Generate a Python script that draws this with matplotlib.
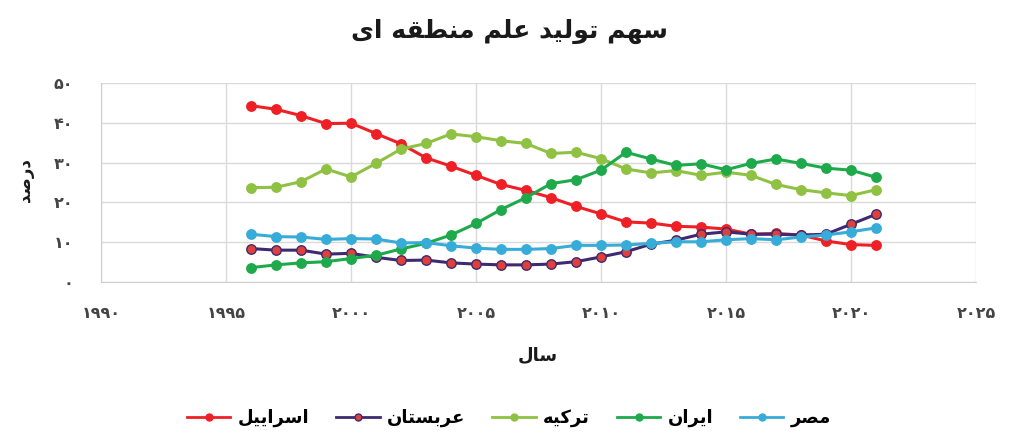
import matplotlib
matplotlib.use("Agg")
import matplotlib.pyplot as plt
from matplotlib.lines import Line2D
from matplotlib.ticker import FuncFormatter

# ---- data -------------------------------------------------------------
years = list(range(1996, 2022))

israel = [44.3, 43.4, 41.8, 39.8, 39.9, 37.3, 34.7, 31.2, 29.1, 26.8, 24.5, 23.0, 21.2,
          19.0, 17.1, 15.1, 14.8, 14.0, 13.8, 13.3, 12.0, 12.2, 11.8, 10.3, 9.4, 9.2]
saudi = [8.4, 8.0, 8.0, 7.0, 7.2, 6.2, 5.4, 5.5, 4.8, 4.5, 4.3, 4.3, 4.5,
         5.1, 6.3, 7.6, 9.5, 10.5, 12.0, 12.6, 12.0, 12.0, 11.8, 12.0, 14.5, 17.0]
turkey = [23.7, 23.8, 25.2, 28.4, 26.4, 29.8, 33.4, 34.8, 37.2, 36.5, 35.5, 34.8, 32.3,
          32.6, 31.0, 28.4, 27.4, 28.0, 26.8, 27.6, 26.8, 24.5, 23.2, 22.4, 21.7, 23.2]
iran = [3.6, 4.3, 4.8, 5.1, 5.9, 6.7, 8.3, 9.7, 11.8, 14.7, 18.2, 21.2, 24.7,
        25.7, 28.1, 32.6, 30.9, 29.3, 29.7, 28.2, 29.8, 30.9, 29.8, 28.6, 28.1, 26.3]
egypt = [12.0, 11.4, 11.3, 10.7, 10.9, 10.8, 9.8, 9.9, 9.1, 8.5, 8.2, 8.2, 8.4,
         9.2, 9.2, 9.3, 9.7, 10.1, 10.1, 10.6, 10.9, 10.6, 11.3, 11.8, 12.6, 13.6]

series_names = ["اسراییل", "عربستان", "ترکیه", "ایران", "مصر"]
series_values = [israel, saudi, turkey, iran, egypt]
line_colors = ["#ee2026", "#3e2a70", "#8fc143", "#1eaa4b", "#37acd8"]
marker_faces = ["#ee2026", "#e0403a", "#8fc143", "#1eaa4b", "#37acd8"]

title_text = "سهم تولید علم منطقه ای"
xlabel_text = "سال"
ylabel_text = "درصد"

x_ticks = list(range(1990, 2026, 5))
y_ticks = list(range(0, 51, 10))

# ---- minimal Arabic-script shaping (contextual forms + RTL order) ------
# letter: (isolated, final, initial, medial); None -> does not join forward
FORMS = {
    "ا": ("\uFE8D", "\uFE8E", None, None),
    "ب": ("\uFE8F", "\uFE90", "\uFE91", "\uFE92"),
    "ت": ("\uFE95", "\uFE96", "\uFE97", "\uFE98"),
    "د": ("\uFEA9", "\uFEAA", None, None),
    "ر": ("\uFEAD", "\uFEAE", None, None),
    "س": ("\uFEB1", "\uFEB2", "\uFEB3", "\uFEB4"),
    "ص": ("\uFEB9", "\uFEBA", "\uFEBB", "\uFEBC"),
    "ط": ("\uFEC1", "\uFEC2", "\uFEC3", "\uFEC4"),
    "ع": ("\uFEC9", "\uFECA", "\uFECB", "\uFECC"),
    "ق": ("\uFED5", "\uFED6", "\uFED7", "\uFED8"),
    "ل": ("\uFEDD", "\uFEDE", "\uFEDF", "\uFEE0"),
    "م": ("\uFEE1", "\uFEE2", "\uFEE3", "\uFEE4"),
    "ن": ("\uFEE5", "\uFEE6", "\uFEE7", "\uFEE8"),
    "ه": ("\uFEE9", "\uFEEA", "\uFEEB", "\uFEEC"),
    "و": ("\uFEED", "\uFEEE", None, None),
    "ی": ("\uFBFC", "\uFBFD", "\uFBFE", "\uFBFF"),
    "ک": ("\uFB8E", "\uFB8F", "\uFB90", "\uFB91"),
}


def shape(text):
    out = []
    n = len(text)
    for i, ch in enumerate(text):
        if ch not in FORMS:
            out.append(ch)
            continue
        iso, fin, ini, med = FORMS[ch]
        prev = text[i - 1] if i > 0 else ""
        nxt = text[i + 1] if i + 1 < n else ""
        join_prev = prev in FORMS and FORMS[prev][2] is not None
        join_next = ini is not None and nxt in FORMS
        if join_prev and join_next:
            out.append(med)
        elif join_prev:
            out.append(fin)
        elif join_next:
            out.append(ini)
        else:
            out.append(iso)
    return "".join(reversed(out))


PERSIAN_DIGITS = str.maketrans("0123456789", "۰۱۲۳۴۵۶۷۸۹")


def fa_num(v, _pos=None):
    return str(int(round(v))).translate(PERSIAN_DIGITS)


# ---- figure -----------------------------------------------------------
plt.rcParams["font.family"] = ["DejaVu Sans"]
fig = plt.figure(figsize=(10.12, 4.38), dpi=100)
ax = fig.add_axes([0.0998, 0.3562, 0.8646, 0.4543])

for name, vals, lc, mf in zip(series_names, series_values, line_colors, marker_faces):
    ax.plot(years, vals, color=lc, lw=2.2, marker="o", ms=6.8,
            markerfacecolor=mf, markeredgecolor=lc, markeredgewidth=1.0,
            solid_joinstyle="round", zorder=3)

ax.set_xlim(1990, 2025)
ax.set_ylim(0, 50)
ax.set_xticks(x_ticks)
ax.set_yticks(y_ticks)
ax.xaxis.set_major_formatter(FuncFormatter(fa_num))
ax.yaxis.set_major_formatter(FuncFormatter(fa_num))
ax.tick_params(axis="both", length=0, labelsize=11.5, colors="#444444")
ax.tick_params(axis="x", pad=17)
ax.tick_params(axis="y", pad=20)
for lab in ax.get_xticklabels() + ax.get_yticklabels():
    lab.set_fontweight("bold")

ax.grid(True, color="#dadada", lw=1.0, zorder=0)
for side in ("top", "right"):
    ax.spines[side].set_visible(False)
for side in ("left", "bottom"):
    ax.spines[side].set_color("#cfcfcf")

fig.text(0.503, 0.928, shape(title_text), ha="center", va="center",
         fontsize=18, fontweight="bold", color="#1a1a1a")
fig.text(0.531, 0.19, shape(xlabel_text), ha="center", va="center",
         fontsize=13, fontweight="bold", color="#1a1a1a")
fig.text(0.025, 0.59, shape(ylabel_text), ha="center", va="center",
         rotation=90, fontsize=12, fontweight="bold", color="#1a1a1a")

handles = [Line2D([], [], color=lc, lw=2.0, marker="o", ms=5,
                  markerfacecolor=mf, markeredgecolor=lc)
           for lc, mf in zip(line_colors, marker_faces)]
fig.legend(handles, [shape(s) for s in series_names], loc="center",
           bbox_to_anchor=(0.503, 0.045), ncol=5, frameon=False,
           prop={"size": 13, "weight": "bold"}, handlelength=2.4,
           columnspacing=1.5, handletextpad=0.4)

fig.savefig("out.png", dpi=100, facecolor="white")
